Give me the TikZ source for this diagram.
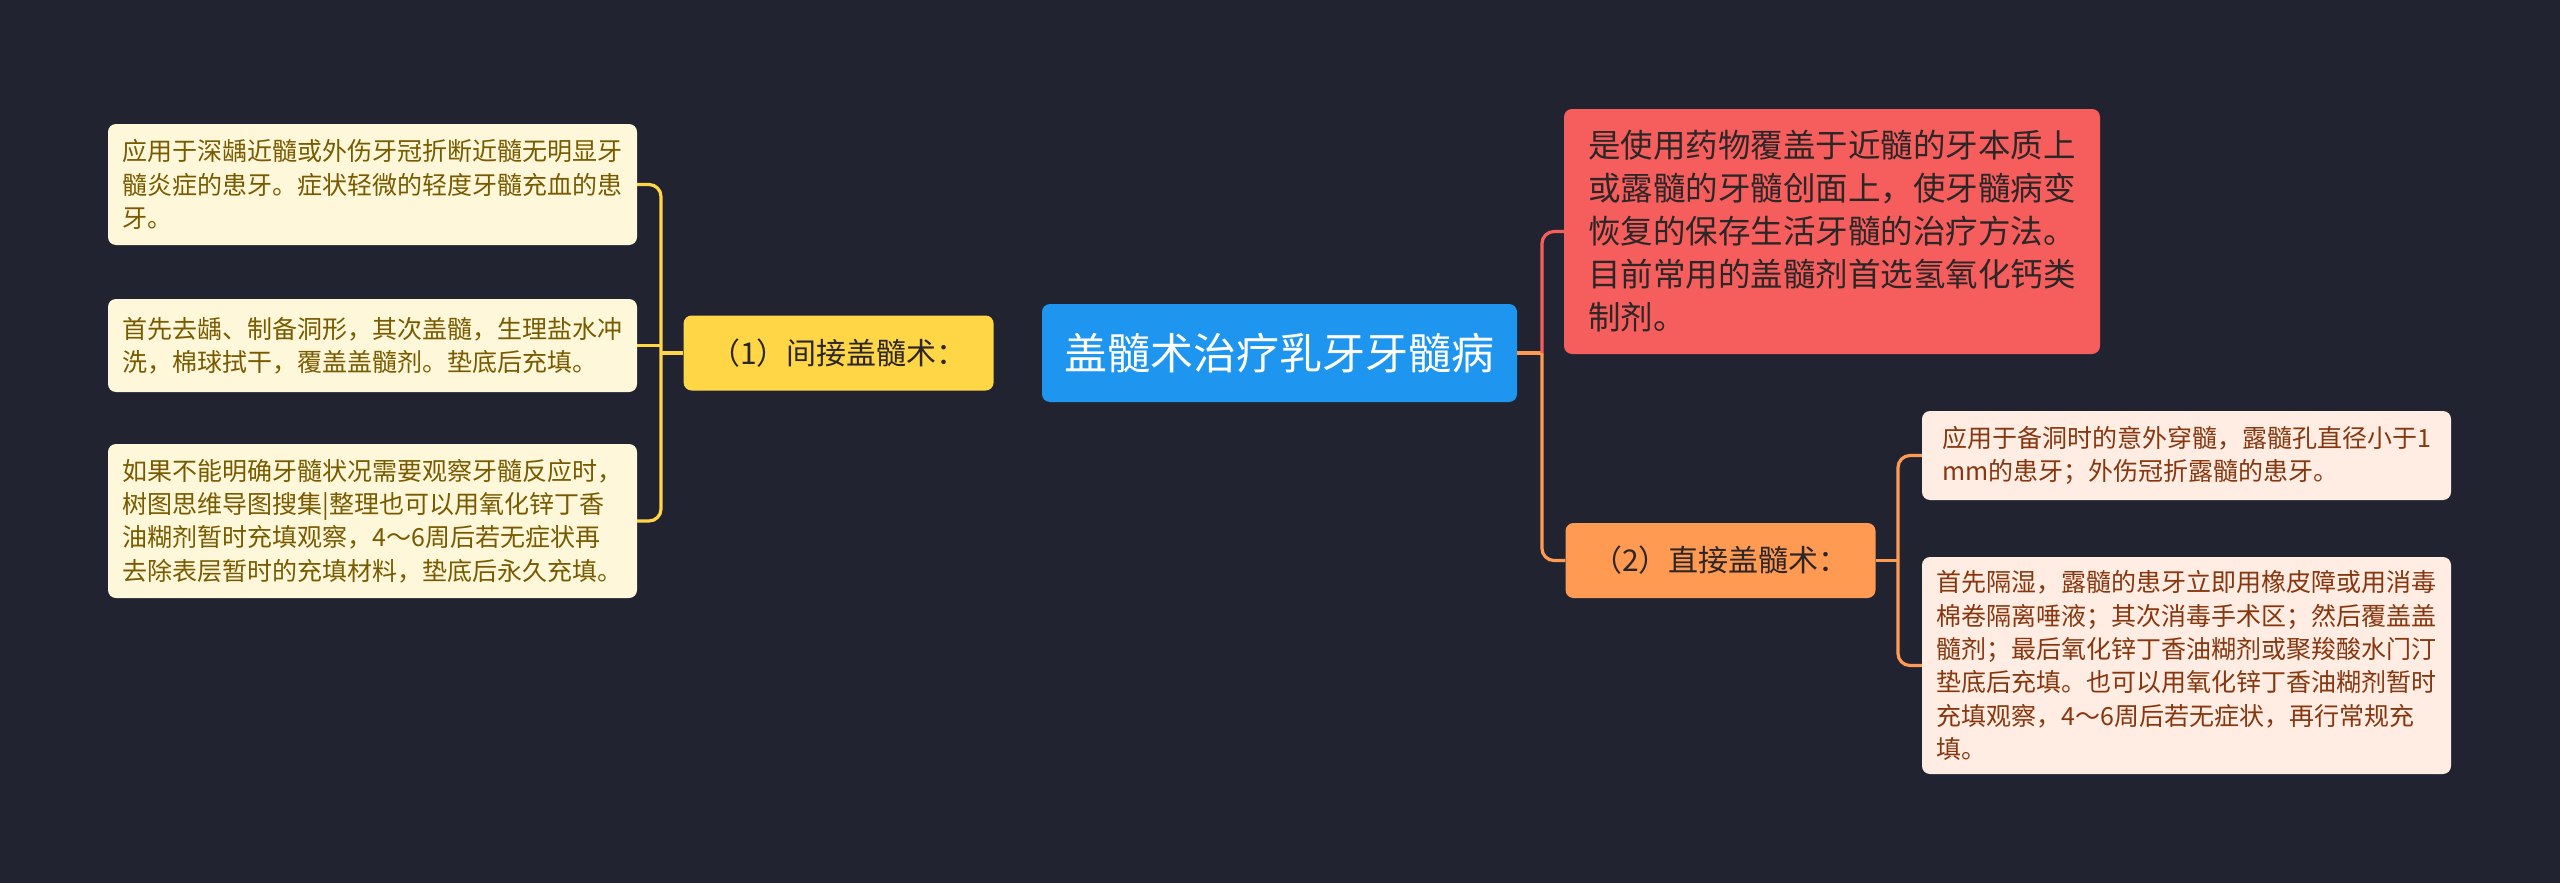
\documentclass[tikz,border=0pt]{standalone}
\usepackage{fontspec}
\setmainfont{Noto Sans CJK SC}
\usetikzlibrary{positioning}
\definecolor{bgdark}{RGB}{33,36,48}
\definecolor{rootblue}{RGB}{30,150,240}
\definecolor{branchyellow}{RGB}{255,214,70}
\definecolor{branchorange}{RGB}{255,154,82}
\definecolor{notered}{RGB}{246,94,94}
\definecolor{leafcream}{RGB}{255,247,218}
\definecolor{leafpeach}{RGB}{255,236,226}
\definecolor{creamtext}{RGB}{120,90,0}
\definecolor{peachtext}{RGB}{135,55,15}
\definecolor{darktext}{RGB}{45,38,38}

\begin{document}
\begin{tikzpicture}[x=1pt, y=-1pt,
  rootbox/.style={rounded corners=8pt, fill=rootblue, text=white, inner sep=0pt,
    minimum width=475pt, minimum height=98pt, font=\fontsize{43}{50}\selectfont},
  branchbox/.style={rounded corners=8pt, text=darktext, inner sep=0pt,
    minimum width=310pt, minimum height=75pt, font=\fontsize{30}{36}\selectfont},
  leafbox/.style={rounded corners=8pt, align=left, inner xsep=14pt, inner ysep=0pt,
    minimum width=529pt, font=\fontsize{25}{33.3}\selectfont},
  conn/.style={line width=3.2pt, rounded corners=12pt}]
  \useasboundingbox (0,0) rectangle (2560,883);
  \fill[bgdark] (0,0) rectangle (2560,883);

  \node[rootbox] (root) at (1279.5,353) {盖髓术治疗乳牙牙髓病};
  \node[branchbox, fill=branchyellow, left=48pt of root] (indirect) {（1）间接盖髓术：};

  \node[leafbox, fill=leafcream, text=creamtext, minimum height=121pt] (leafa) at (372.5,184.5)
    {应用于深龋近髓或外伤牙冠折断近髓无明显牙\\髓炎症的患牙。症状轻微的轻度牙髓充血的患\\牙。};
  \node[leafbox, fill=leafcream, text=creamtext, minimum height=93pt] (leafb) at (372.5,345.5)
    {首先去龋、制备洞形，其次盖髓，生理盐水冲\\洗，棉球拭干，覆盖盖髓剂。垫底后充填。};
  \node[leafbox, fill=leafcream, text=creamtext, minimum height=154pt] (leafc) at (372.5,521)
    {如果不能明确牙髓状况需要观察牙髓反应时，\\树图思维导图搜集|整理也可以用氧化锌丁香\\油糊剂暂时充填观察，4～6周后若无症状再\\去除表层暂时的充填材料，垫底后永久充填。};

  \node[rounded corners=8pt, fill=notered, text=darktext, align=left, inner xsep=17pt,
    minimum width=536pt, minimum height=245pt, font=\fontsize{32.5}{43}\selectfont] (note) at (1832,231.5)
    {是使用药物覆盖于近髓的牙本质上\\或露髓的牙髓创面上，使牙髓病变\\恢复的保存生活牙髓的治疗方法。\\目前常用的盖髓剂首选氢氧化钙类\\制剂。};

  \node[branchbox, fill=branchorange] (direct) at (1720.5,560.5) {（2）直接盖髓术：};

  \node[leafbox, fill=leafpeach, text=peachtext, minimum height=89pt] (leafd) at (2186.5,455.5)
    {应用于备洞时的意外穿髓，露髓孔直径小于1\\mm的患牙；外伤冠折露髓的患牙。};
  \node[leafbox, fill=leafpeach, text=peachtext, minimum height=217pt] (leafe) at (2186.5,665.5)
    {首先隔湿，露髓的患牙立即用橡皮障或用消毒\\棉卷隔离唾液；其次消毒手术区；然后覆盖盖\\髓剂；最后氧化锌丁香油糊剂或聚羧酸水门汀\\垫底后充填。也可以用氧化锌丁香油糊剂暂时\\充填观察，4～6周后若无症状，再行常规充\\填。};

  % left side
  \coordinate (ljoin) at (661,353);
  \draw[conn, branchyellow] (indirect.west) -- (ljoin);
  \draw[conn, branchyellow] (leafa.east) -| (ljoin) |- (leafc.east);
  \draw[conn, branchyellow] (leafb.east) -- (leafb.east -| ljoin);

  % right side
  \coordinate (rjoin) at (1542,353);
  \draw[conn, branchorange] (root.east) -- (rjoin);
  \draw[conn, notered] (rjoin) |- (note.west);
  \draw[conn, branchorange] (rjoin) |- (direct.west);
  \coordinate (ojoin) at (1898,560.5);
  \draw[conn, branchorange] (direct.east) -- (ojoin);
  \draw[conn, branchorange] (leafd.west) -| (ojoin) |- (leafe.west);
\end{tikzpicture}
\end{document}
